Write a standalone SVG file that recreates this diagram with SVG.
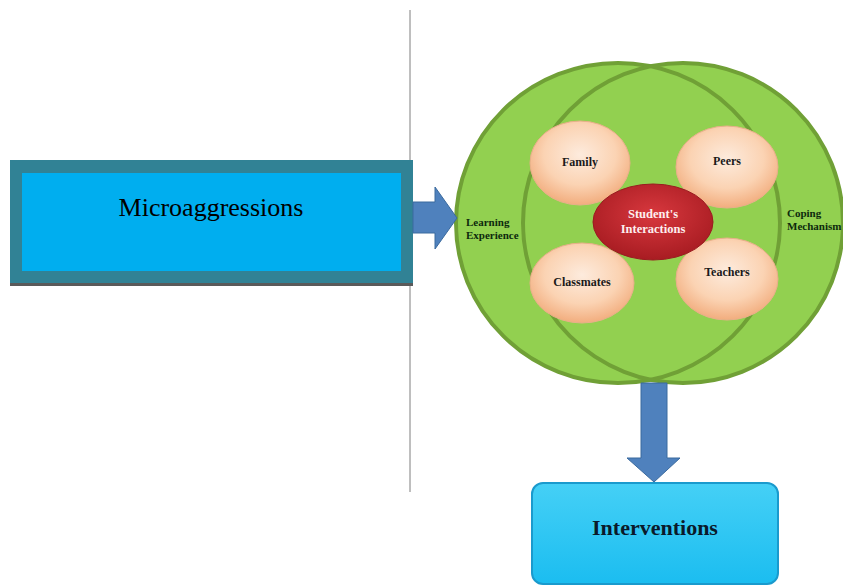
<svg xmlns="http://www.w3.org/2000/svg" width="843" height="586" viewBox="0 0 843 586">
<defs>
<radialGradient id="peach" cx="50%" cy="40%" r="60%">
<stop offset="0" stop-color="#FDEBDD"/>
<stop offset="0.6" stop-color="#FBD3B3"/>
<stop offset="1" stop-color="#F2AD7E"/>
</radialGradient>
<radialGradient id="red" cx="50%" cy="40%" r="60%">
<stop offset="0" stop-color="#D8383E"/>
<stop offset="1" stop-color="#A81C22"/>
</radialGradient>
<linearGradient id="cyan" x1="0" y1="0" x2="0" y2="1">
<stop offset="0" stop-color="#45D0F6"/>
<stop offset="1" stop-color="#1BBDF0"/>
</linearGradient>
</defs>
<style>
.big{fill:#92D050}
.bigs{fill:none;stroke:#70A036;stroke-width:4}
.small{fill:url(#peach);stroke:#E8B08A;stroke-width:1}
.lbl{font-family:"Liberation Serif",serif;font-weight:bold;font-size:12px;fill:#1a1a1a;text-anchor:middle}
.side{font-family:"Liberation Serif",serif;font-weight:bold;font-size:11px;fill:#0d2a0d}
.arrow{fill:#4F81BD;stroke:#3A6A9E;stroke-width:1}
</style>
<rect width="843" height="586" fill="#ffffff"/>
<line x1="410" y1="10" x2="410" y2="492" stroke="#7f7f7f" stroke-width="1"/>
<g id="microaggressions">
<rect x="10" y="163" width="403" height="123" fill="#5a5a5a"/>
<rect x="10" y="160" width="403" height="123" fill="#318295"/>
<rect x="22" y="173" width="379" height="98" fill="#00AEEF"/>
<text x="211" y="216" font-family="Liberation Serif,serif" font-size="26" text-anchor="middle" fill="#000">Microaggressions</text>
</g>
<g id="context">
<ellipse class="big" cx="618" cy="223" rx="162" ry="160"/>
<ellipse class="big" cx="683" cy="223" rx="160" ry="160"/>
<ellipse class="bigs" cx="618" cy="223" rx="162" ry="160"/>
<ellipse class="bigs" cx="683" cy="223" rx="160" ry="160"/>
<text class="side" x="466" y="226">Learning</text>
<text class="side" x="466" y="239">Experience</text>
<text class="side" x="787" y="217">Coping</text>
<text class="side" x="787" y="230">Mechanism</text>
</g>
<g id="family">
<ellipse class="small" cx="580" cy="163" rx="50" ry="42"/>
<text class="lbl" x="580" y="166">Family</text>
</g>
<g id="peers">
<ellipse class="small" cx="727" cy="167" rx="51" ry="41"/>
<text class="lbl" x="727" y="165">Peers</text>
</g>
<g id="classmates">
<ellipse class="small" cx="582" cy="283" rx="52" ry="40"/>
<text class="lbl" x="582" y="286">Classmates</text>
</g>
<g id="teachers">
<ellipse class="small" cx="727" cy="279" rx="51" ry="41"/>
<text class="lbl" x="727" y="276">Teachers</text>
</g>
<g id="students-interactions">
<ellipse cx="653" cy="222" rx="60" ry="38" fill="url(#red)" stroke="#9A1B20" stroke-width="1"/>
<text class="lbl" x="653" y="218" style="fill:#FDEFEF;font-size:12.5px">Student's</text>
<text class="lbl" x="653" y="233" style="fill:#FDEFEF;font-size:12.5px">Interactions</text>
</g>
<g id="connectors">
<polygon class="arrow" points="413,202 435,202 435,187 457,218 435,249 435,233 413,233"/>
<polygon class="arrow" points="641,383 667,383 667,458 680,458 654,482 627,458 641,458"/>
</g>
<g id="interventions">
<rect x="532" y="483" width="246" height="101" rx="11" fill="url(#cyan)" stroke="#1A9ACD" stroke-width="2"/>
<text x="655" y="535" font-family="Liberation Serif,serif" font-weight="bold" font-size="22" text-anchor="middle" fill="#0a1a2a">Interventions</text>
</g>
</svg>
